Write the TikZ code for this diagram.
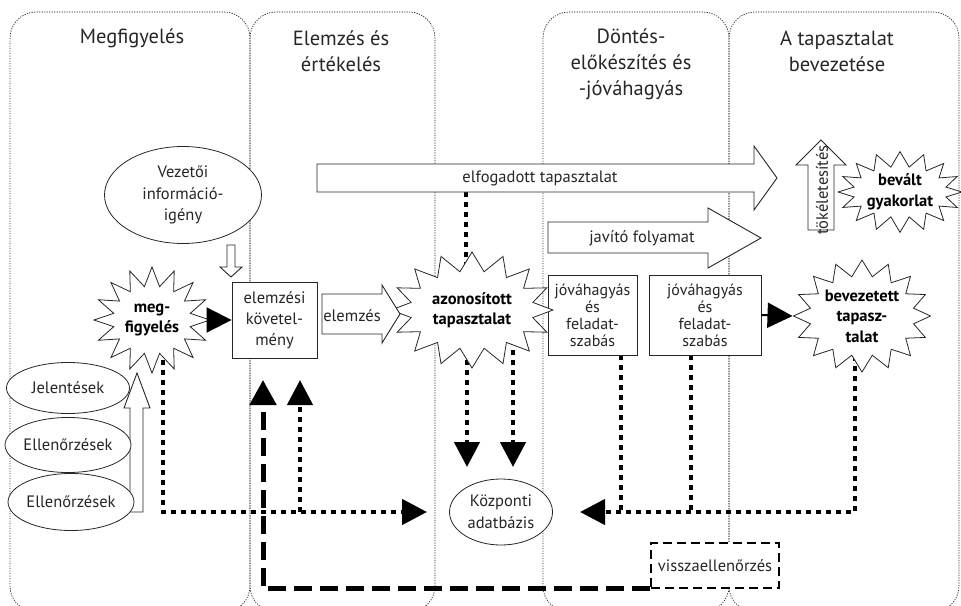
\documentclass[tikz,border=0pt]{standalone}
\usepackage{fontspec}
\setmainfont{PT Sans}
\usetikzlibrary{shapes.geometric,shapes.symbols,arrows.meta}
\pgfdeclarelayer{back}
\pgfdeclarelayer{mid}
\pgfsetlayers{back,mid,main}
\begin{document}
\begin{tikzpicture}[x=1pt,y=-1pt,
  panel/.style={draw=black!85, line width=0.7pt, dash pattern=on 1.2pt off 1.3pt, rounded corners=26pt},
  title/.style={font=\fontsize{20.5}{26}\selectfont, align=center, text=black!85},
  txt/.style={font=\fontsize{16.5}{21}\selectfont, align=center, text=black!85, inner sep=0pt},
  hollow/.style={draw=black!85, fill=white, line width=0.9pt, line join=miter},
  stepbox/.style={draw=black!85, fill=white, line width=0.9pt, rectangle, inner sep=0pt, align=center, text=black!85, font=\fontsize{16.5}{21}\selectfont},
  oval/.style={ellipse, draw=black!85, fill=white, line width=0.8pt, inner sep=0pt, align=center, text=black!85, font=\fontsize{16.5}{21.5}\selectfont},
  burst/.style={starburst, draw=black!85, fill=white, line width=0.8pt, starburst points=16, random starburst=0, starburst point height=19pt, inner sep=0pt, align=center, font=\bfseries\fontsize{16.5}{20.5}\selectfont},
  dotarrow/.style={line width=4.5pt, dash pattern=on 5pt off 5pt, -{Triangle[length=25pt,width=25pt]}},
  dotline/.style={line width=4.5pt, dash pattern=on 5pt off 5pt},
  dasharrow/.style={line width=5pt, dash pattern=on 18pt off 8pt, -{Triangle[length=25pt,width=26pt]}},
  solidarrow/.style={line width=2pt, -{Triangle[length=25pt,width=25pt]}}
]
\clip (0,0) rectangle (961,605);

% column frames
\begin{pgfonlayer}{back}
  \draw[panel] (10,12) rectangle (250,612);
  \draw[panel] (250,12) rectangle (435,612);
  \draw[panel] (543,12) rectangle (729,612);
  \draw[panel] (729,12) rectangle (959,612);
\end{pgfonlayer}

% column titles
\node[title] (t1) at (132,38) {Megfigyelés};
\node[title] (t2) at (341,51) {Elemzés és\\értékelés};
\node[title] (t3) at (631,64) {Döntés-\\előkészítés és\\-jóváhagyás};
\node[title] (t4) at (837,51) {A tapasztalat\\bevezetése};

% broad process arrows
\draw[hollow] (317,164) -- (754,164) -- (754,146) -- (777,178) -- (754,210) -- (754,192) -- (317,192) -- cycle;
\node[txt] (elfog) at (540,178) {elfogadott tapasztalat};
\draw[hollow] (548,222) -- (708,222) -- (708,208) -- (761,238) -- (708,268) -- (708,253) -- (548,253) -- cycle;
\node[txt] (javit) at (642,238) {javító folyamat};
\draw[hollow] (808,230) -- (808,165) -- (796,165) -- (821,140) -- (846,165) -- (834,165) -- (834,230) -- cycle;
\node[txt, rotate=90] (tokel) at (822,190) {tökéletesítés};
\draw[hollow] (227,245) -- (235,245) -- (235,267) -- (242,267) -- (231,277) -- (220,267) -- (227,267) -- cycle;
\draw[hollow] (130,512) -- (130,408) -- (124,408) -- (137,373) -- (150,408) -- (143,408) -- (143,512) -- cycle;

% ovals
\node[oval, minimum width=157pt, minimum height=97pt] (vez) at (183,195) {Vezetői\\információ-\\igény};
\node[oval, minimum width=123pt, minimum height=51pt] (jel) at (68,388) {Jelentések};
\node[oval, minimum width=123pt, minimum height=55pt] (ell1) at (68,445) {Ellenőrzések};
\node[oval, minimum width=108pt, minimum height=57pt] (ell2) at (71,502) {Ellenőrzések};
\node[oval, minimum width=103pt, minimum height=66pt] (kozp) at (501,512) {Központi\\adatbázis};

% boxes
\node[stepbox, minimum width=85pt, minimum height=76pt] (elk) at (274.5,320) {elemzési\\követel-\\mény};
\node[stepbox, minimum width=89pt, minimum height=80pt, font=\fontsize{16}{17}\selectfont] (jov1) at (592.5,315) {jóváhagyás\\és\\feladat-\\szabás};
\node[stepbox, minimum width=112pt, minimum height=80pt, font=\fontsize{16}{17}\selectfont] (jov2) at (705,315) {jóváhagyás\\és\\feladat-\\szabás};
\node[stepbox, draw=black, line width=1.3pt, dash pattern=on 9pt off 5pt, minimum width=128pt, minimum height=45pt] (vissza) at (715,565.5) {visszaellenőrzés};

% bursts
\node[burst, minimum width=116pt, minimum height=106pt] (megf) at (152,320) {meg-\\figyelés};
\node[burst, minimum width=162pt, minimum height=116pt] (azon) at (472,310) {azonosított\\tapasztalat};
\node[burst, minimum width=137pt, minimum height=112pt, starburst point height=16pt] (bev) at (862,316) {bevezetett\\tapasz-\\talat};
\node[burst, minimum width=117pt, minimum height=77pt, starburst point height=15pt] (bevalt) at (900,192) {bevált\\gyakorlat};

% analysis arrow
\draw[hollow] (322,294) -- (382,294) -- (382,285) -- (400,314) -- (382,343) -- (382,334) -- (322,334) -- cycle;
\node[txt] (elemz) at (352,316) {elemzés};

% hand-over arrows between the steps
\draw[solidarrow] (megf.east) -- (elk.west);
\draw[solidarrow] (jov2.east) -- (bev.west);

% junction points of the data flows
\coordinate (mx) at (163,512);
\coordinate (kleft) at (427,512);
\coordinate (kright) at (580,512);
\coordinate (up1) at (300,512);
\coordinate (up1tip) at (300,380);
\coordinate (fbtip) at (263,380);
\coordinate (d1) at (467,467);
\coordinate (d2) at (513,467);
\coordinate (elfx) at (466,192);
\coordinate (b1) at (621,512);
\coordinate (b2) at (691,512);
\coordinate (bx) at (855,512);

\begin{pgfonlayer}{mid}
  \draw[dotarrow] (megf.center -| mx) |- (kleft);
  \draw[dotarrow] (up1) -- (up1tip);
  \draw[dotline] (elfx) -- (azon.center -| elfx);
  \draw[dotarrow] (azon.center -| d1) -- (d1);
  \draw[dotarrow] (azon.center -| d2) -- (d2);
  \draw[dotarrow] (bev.center -| bx) |- (kright);
  \draw[dotline] (jov1.center -| b1) -- (b1);
  \draw[dotline] (jov2.center -| b2) -- (b2);
  \draw[dasharrow] (vissza.south west) -| (fbtip);
\end{pgfonlayer}
\end{tikzpicture}
\end{document}
